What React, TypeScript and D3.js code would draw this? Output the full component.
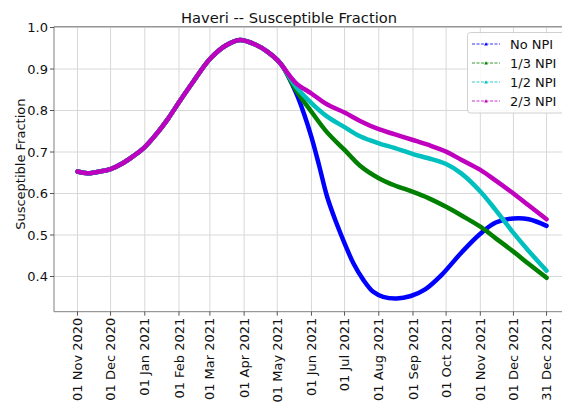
import React from "react";
import * as d3 from "d3";

const commonDates = ["2020-11-01","2020-11-10","2020-11-21","2020-12-01","2020-12-12","2020-12-21","2021-01-01","2021-01-12","2021-01-22","2021-02-01","2021-02-14","2021-03-01","2021-03-15","2021-03-28","2021-04-12","2021-04-22","2021-05-01","2021-05-06"];
const commonValues = [0.653,0.649,0.653,0.659,0.673,0.689,0.712,0.745,0.780,0.820,0.870,0.924,0.956,0.970,0.958,0.942,0.922,0.906];

const blueDates = ["2021-05-18","2021-05-25","2021-06-01","2021-06-08","2021-06-15","2021-06-23","2021-07-01","2021-07-09","2021-07-18","2021-07-27","2021-08-05","2021-08-17","2021-08-30","2021-09-12","2021-09-27","2021-10-15","2021-11-01","2021-11-15","2021-12-01","2021-12-15","2021-12-31"];
const noNpi = [0.843,0.794,0.736,0.667,0.594,0.533,0.480,0.432,0.392,0.363,0.351,0.347,0.353,0.369,0.404,0.458,0.503,0.530,0.540,0.538,0.522];

const laterDates = ["2021-05-18","2021-06-01","2021-06-15","2021-07-01","2021-07-15","2021-08-01","2021-08-15","2021-09-01","2021-09-15","2021-10-01","2021-10-15","2021-11-01","2021-11-15","2021-12-01","2021-12-15","2021-12-31"];
const npi13 = [0.849,0.797,0.748,0.705,0.667,0.637,0.620,0.604,0.589,0.568,0.547,0.520,0.492,0.460,0.430,0.397];
const npi12 = [0.857,0.818,0.786,0.760,0.738,0.721,0.710,0.695,0.685,0.671,0.648,0.605,0.560,0.505,0.461,0.414];
const npi23 = [0.866,0.841,0.815,0.795,0.775,0.755,0.743,0.729,0.717,0.701,0.681,0.657,0.631,0.600,0.571,0.538];

const seriesNames = ["No NPI", "1/3 NPI", "1/2 NPI", "2/3 NPI"];
const seriesColors = ["#0000ff", "#008000", "#00bfbf", "#bf00bf"];

const tickDates = ["2020-11-01","2020-12-01","2021-01-01","2021-02-01","2021-03-01","2021-04-01","2021-05-01","2021-06-01","2021-07-01","2021-08-01","2021-09-01","2021-10-01","2021-11-01","2021-12-01","2021-12-31"];
const tickLabels = ["01 Nov 2020","01 Dec 2020","01 Jan 2021","01 Feb 2021","01 Mar 2021","01 Apr 2021","01 May 2021","01 Jun 2021","01 Jul 2021","01 Aug 2021","01 Sep 2021","01 Oct 2021","01 Nov 2021","01 Dec 2021","31 Dec 2021"];
const yTicks = [0.4, 0.5, 0.6, 0.7, 0.8, 0.9, 1.0];

const parse = (s: string) => new Date(s + "T00:00:00Z");
const DAY = 86400000;

export default function App() {
  const left = 54, right = 570, top = 26.7, bottom = 311.7;
  const start = parse("2020-11-01").getTime();
  const end = parse("2021-12-31").getTime();
  const pad = 21.25 * DAY;
  const x = d3.scaleUtc().domain([new Date(start - pad), new Date(end + pad)]).range([left, right]);
  const y = d3.scaleLinear().domain([0.3152, 1.002]).range([bottom, top]);

  const makeSeries = (dates: string[], vals: number[]) => {
    const pts = commonDates.map((d, i) => ({ d: parse(d), v: commonValues[i] }));
    return pts.concat(dates.map((d, i) => ({ d: parse(d), v: vals[i] })));
  };
  const series = [
    makeSeries(blueDates, noNpi),
    makeSeries(laterDates, npi13),
    makeSeries(laterDates, npi12),
    makeSeries(laterDates, npi23),
  ];
  const line = d3
    .line<{ d: Date; v: number }>()
    .x((p) => x(p.d))
    .y((p) => y(p.v))
    .curve(d3.curveCatmullRom.alpha(0.5));

  const font = "DejaVu Sans, sans-serif";
  const legendRows = [44, 63, 82, 101];
  const tri = (cx: number, cy: number, s: number) =>
    `M${cx},${cy - s} L${cx + s},${cy + s * 0.8} L${cx - s},${cy + s * 0.8} Z`;

  return (
    <svg width={562} height={404} style={{ position: "absolute", left: 0, top: 0, background: "#fff" }} fontFamily={font}>
      <defs>
        <clipPath id="plotclip">
          <rect x={left} y={top} width={right - left} height={bottom - top} />
        </clipPath>
      </defs>
      {tickDates.map((t, i) => (
        <line key={"gx" + i} x1={x(parse(t))} x2={x(parse(t))} y1={top} y2={bottom} stroke="#d8d8d8" strokeWidth={1} />
      ))}
      {yTicks.map((t, i) => (
        <line key={"gy" + i} x1={left} x2={right} y1={y(t)} y2={y(t)} stroke="#d8d8d8" strokeWidth={1} />
      ))}
      <g clipPath="url(#plotclip)">
        {series.map((s, i) => (
          <path key={"s" + i} d={line(s) || ""} fill="none" stroke={seriesColors[i]} strokeWidth={4.5} strokeLinejoin="round" strokeLinecap="round" />
        ))}
      </g>
      <line x1={left} x2={left} y1={top} y2={bottom} stroke="#7f7f7f" strokeWidth={1} />
      <line x1={left} x2={right} y1={bottom} y2={bottom} stroke="#7f7f7f" strokeWidth={1} />
      <line x1={left} x2={right} y1={top} y2={top} stroke="#7f7f7f" strokeWidth={1} />
      {yTicks.map((t, i) => (
        <g key={"yt" + i}>
          <line x1={left - 4} x2={left} y1={y(t)} y2={y(t)} stroke="#555" strokeWidth={1} />
          <text x={left - 6} y={y(t)} dy="0.35em" textAnchor="end" fontSize={13} fill="#111">
            {t.toFixed(1)}
          </text>
        </g>
      ))}
      {tickDates.map((t, i) => {
        const px = x(parse(t));
        return (
          <g key={"xt" + i}>
            <line x1={px} x2={px} y1={bottom} y2={bottom + 4} stroke="#555" strokeWidth={1} />
            <text transform={`translate(${px},${bottom + 6}) rotate(-90)`} dy="0.35em" textAnchor="end" fontSize={13} fill="#111">
              {tickLabels[i]}
            </text>
          </g>
        );
      })}
      <text transform={`translate(25,${(top + bottom) / 2 - 5}) rotate(-90)`} textAnchor="middle" fontSize={13} fill="#111">
        Susceptible Fraction
      </text>
      <text x={289} y={22.5} textAnchor="middle" fontSize={14.7} fill="#111">
        Haveri -- Susceptible Fraction
      </text>
      <rect x={467.5} y={32.5} width={110} height={80.5} rx={3} fill="#fff" fillOpacity={0.85} stroke="#d0d0d0" strokeWidth={1} />
      {seriesNames.map((n, i) => (
        <g key={"lg" + i}>
          <line x1={472} x2={500} y1={legendRows[i]} y2={legendRows[i]} stroke={seriesColors[i]} strokeWidth={1} strokeDasharray="3,1.5" opacity={0.8} />
          <path d={tri(486, legendRows[i], 1.8)} fill={seriesColors[i]} />
          <text x={510} y={legendRows[i]} dy="0.35em" fontSize={13} fill="#111">
            {n}
          </text>
        </g>
      ))}
    </svg>
  );
}
